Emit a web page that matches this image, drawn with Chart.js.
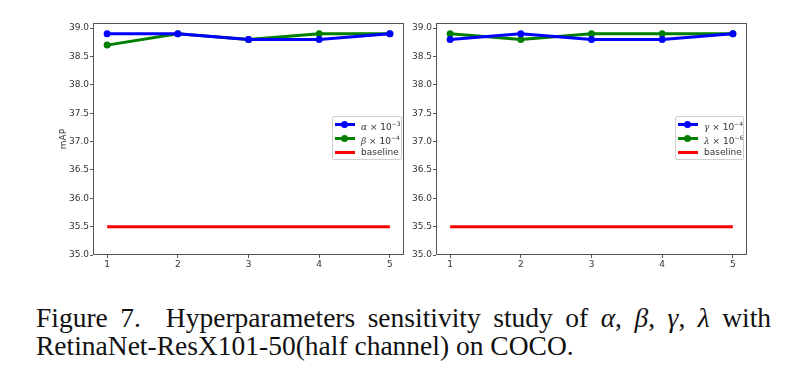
<!DOCTYPE html>
<html>
<head>
<meta charset="utf-8">
<script src="https://cdn.jsdelivr.net/npm/chart.js@4"></script>
<style>
  body { margin: 0; background: #fff; width: 801px; height: 388px; overflow: hidden; position: relative; }
  canvas { position: absolute; }
  .legend {
    position: absolute; background: #fff; border: 1px solid #d0d0d0; border-radius: 2px;
    font-family: "DejaVu Sans", sans-serif; font-size: 9px; color: #333; padding: 0 3px 0 2px;
  }
  .legend .row { height: 14px; line-height: 14px; white-space: nowrap; position: relative; padding-left: 26px; }
  .legend .swatch { position: absolute; left: 0; top: 6px; width: 20px; height: 3px; }
  .legend .dot { position: absolute; left: 6px; top: -2px; width: 7px; height: 7px; border-radius: 50%; }
  .legend sup { font-size: 6px; vertical-align: 4px; }
  .legend i { font-family: "DejaVu Serif", serif; }
  #caption {
    position: absolute; left: 36px; top: 304px; width: 735px;
    font-family: "Liberation Serif", "Times New Roman", serif; font-size: 27.5px; line-height: 28px;
    color: #111;
  }
  #caption .l1 { text-align: justify; text-align-last: justify; white-space: nowrap; }
</style>
</head>
<body>
<canvas id="leftChart" width="380" height="275" style="left:40px; top:0px;"></canvas>
<canvas id="rightChart" width="360" height="275" style="left:400px; top:0px;"></canvas>

<div class="legend" style="left:332px; top:116px; width:63px;">
  <div class="row"><span class="swatch" style="background:#0000ff"><span class="dot" style="background:#0000ff"></span></span><i>α</i> × 10<sup>−3</sup></div>
  <div class="row"><span class="swatch" style="background:#008000"><span class="dot" style="background:#008000"></span></span><i>β</i> × 10<sup>−4</sup></div>
  <div class="row"><span class="swatch" style="background:#ff0000"></span>baseline</div>
</div>
<div class="legend" style="left:675px; top:116px; width:62px;">
  <div class="row"><span class="swatch" style="background:#0000ff"><span class="dot" style="background:#0000ff"></span></span><i>γ</i> × 10<sup>−4</sup></div>
  <div class="row"><span class="swatch" style="background:#008000"><span class="dot" style="background:#008000"></span></span><i>λ</i> × 10<sup>−6</sup></div>
  <div class="row"><span class="swatch" style="background:#ff0000"></span>baseline</div>
</div>

<div id="caption">
  <div class="l1">Figure 7.&nbsp; Hyperparameters sensitivity study of <i>α</i>, <i>β</i>, <i>γ</i>, <i>λ</i> with</div>
  <div>RetinaNet-ResX101-50(half channel) on COCO.</div>
</div>

<script>
// settings
const xValues = [1, 2, 3, 4, 5];
const yTicks = [35.0, 35.5, 36.0, 36.5, 37.0, 37.5, 38.0, 38.5, 39.0];

const alphaMAP = [38.9, 38.9, 38.8, 38.8, 38.9];
const betaMAP = [38.7, 38.9, 38.8, 38.9, 38.9];
const gammaMAP = [38.8, 38.9, 38.8, 38.8, 38.9];
const lambdaMAP = [38.9, 38.8, 38.9, 38.9, 38.9];
const baselineMAP = [35.5, 35.5, 35.5, 35.5, 35.5];

const BLUE = '#0000ff';
const GREEN = '#008000';
const RED = '#ff0000';

function toPoints(values) {
    return values.map((v, i) => ({ x: xValues[i], y: v }));
}

function lineSet(label, values, color, showPoints) {
    return {
        label: label,
        data: toPoints(values),
        borderColor: color,
        backgroundColor: color,
        pointBackgroundColor: color,
        pointBorderWidth: 0,
        pointRadius: showPoints ? 3.5 : 0,
        borderWidth: 3,
        fill: false,
        tension: 0
    };
}

// draws the full box round the plot, like matplotlib
const framePlugin = {
    id: 'frame',
    afterDraw(chart) {
        const a = chart.chartArea;
        const c = chart.ctx;
        c.save();
        c.strokeStyle = '#555';
        c.lineWidth = 1;
        c.strokeRect(a.left + 0.5, a.top + 0.5, a.right - a.left - 1, a.bottom - a.top - 1);
        c.restore();
    }
};

const tickFont = { family: 'DejaVu Sans', size: 9 };

function makeOptions(yWidth, rightPad, withTitle) {
    return {
        responsive: false,
        animation: false,
        layout: { padding: { top: 23, right: rightPad, left: 0, bottom: 0 } },
        plugins: { legend: { display: false }, tooltip: { enabled: false } },
        scales: {
            x: {
                type: 'linear',
                min: 0.8,
                max: 5.2,
                afterBuildTicks: s => { s.ticks = xValues.map(v => ({ value: v })); },
                afterFit: s => { s.height = 20; },
                ticks: { font: tickFont, color: '#333', padding: 1, maxRotation: 0 },
                grid: { drawOnChartArea: false, drawTicks: true, tickLength: 3, color: '#555' },
                border: { display: false }
            },
            y: {
                min: 35,
                max: 39.09,
                afterBuildTicks: s => { s.ticks = yTicks.map(v => ({ value: v })); },
                afterFit: s => { s.width = yWidth; },
                ticks: {
                    font: tickFont, color: '#333', padding: 1,
                    callback: v => v.toFixed(1)
                },
                grid: { drawOnChartArea: false, drawTicks: true, tickLength: 3, color: '#555' },
                border: { display: false },
                title: {
                    display: withTitle,
                    text: 'mAP',
                    font: { family: 'DejaVu Sans', size: 9 },
                    color: '#333',
                    padding: { top: 18, bottom: 0 }
                }
            }
        }
    };
}

new Chart(document.getElementById('leftChart').getContext('2d'), {
    type: 'line',
    data: {
        datasets: [
            lineSet('α × 10^-3', alphaMAP, BLUE, true),
            lineSet('β × 10^-4', betaMAP, GREEN, true),
            lineSet('baseline', baselineMAP, RED, false)
        ]
    },
    options: makeOptions(53, 16, true),
    plugins: [framePlugin]
});

new Chart(document.getElementById('rightChart').getContext('2d'), {
    type: 'line',
    data: {
        datasets: [
            lineSet('γ × 10^-4', gammaMAP, BLUE, true),
            lineSet('λ × 10^-6', lambdaMAP, GREEN, true),
            lineSet('baseline', baselineMAP, RED, false)
        ]
    },
    options: makeOptions(36, 13, false),
    plugins: [framePlugin]
});
</script>
</body>
</html>
